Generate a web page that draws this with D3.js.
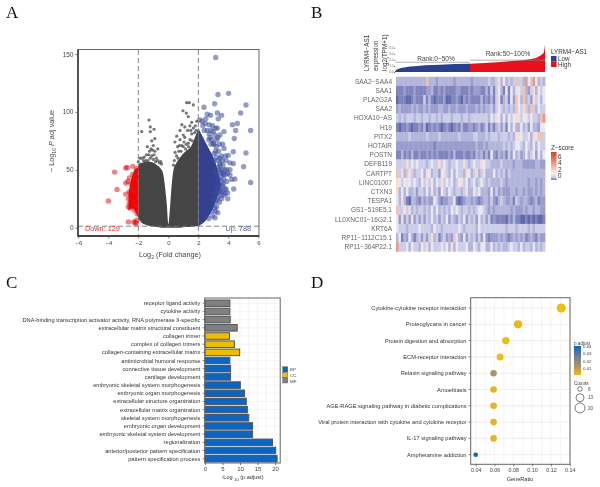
<!DOCTYPE html>
<html><head><meta charset="utf-8">
<script src="https://cdnjs.cloudflare.com/ajax/libs/d3/7.8.5/d3.min.js"></script>
<style>
html,body{margin:0;padding:0;background:#fff}
svg{display:block;filter:blur(0.45px)}
text{font-family:"Liberation Sans",Arial,sans-serif}
</style></head><body>
<svg id="c" width="600" height="487"></svg>
<script>
// ---------- Panel A data ----------
const grayX=[-2,-1.75,-1.5,-1.25,-1,-0.75,-0.5,-0.35,-0.2,-0.1,0,0.1,0.2,0.35,0.5,0.75,1,1.25,1.5,1.75,2];
const grayTop=[54,56,57,57,56,54,51,47,33,20,3,15,33,50,55,60,64,67,70,77,86];
const grayBottom=[8,4,2.5,1.5,1,.5,0,0,0,0,0,0,0,0,0,0,.3,.5,.8,1,1.5];
const grayPts=[[-1.29,93],[-1.77,83],[-.95,85],[-1.2,87],[-1.2,83],[-.9,77],[-1.1,75],[-1.4,70],[-1,71],[-.7,68],[-1.25,66],[-.95,63],[-1.75,60],[-2,57],[-.5,57],[-1.5,58],[-1.2,60],[-1.3,63],[-.8,60],[-1.85,55],[-.45,55],[-1.05,67],[-1.6,61],[-1.1,62],[-1.45,63],[-.7,58],[-.6,56],[-1.9,60],[-1.65,58],[-1.15,68],[-.9,66],[-1.35,58],[-.85,57],[-1,59],
[1.22,108],[1.4,108],[1.67,106],[.98,101],[1.2,99],[1.33,96],[1.56,91],[1.1,87],[.9,89],[1.44,88],[.78,84],[1.29,84],[1.67,86],[.56,79],[1,80],[1.56,81],[.44,74],[.78,76],[1.1,78],[.62,70],[.9,71],[1.33,73],[.45,65],[.7,66],[1.2,72],[1.8,88],[1.9,92],[.4,58],[.55,62],[.85,66],[1,70],[1.15,68],[1.45,76],[1.6,75],[1.75,82],[.65,60],[.35,54],[1.35,70],[1.05,74],[.75,71],[1.5,84],[1.85,84]];
const redX=[-2.65,-2.4,-2.2,-2];
const redTop=[30,45,50,52];
const redBottom=[15,17,14,8];
const redPts=[[-3.58,48],[-3.42,33],[-4,23],[-2.84,51.5],[-2.73,52],[-2.37,53],[-2.1,51],[-2.84,38.5],[-2.84,29],[-2.66,5],[-2.2,4.5],[-2.1,6.5],[-2.6,43],[-2.38,46],[-2.15,49],[-2.5,38],[-2.33,40],[-2.07,43],[-2.6,31],[-2.66,25],[-2.6,21],[-2.38,18],[-2.66,18],[-2.15,28],[-2.15,34],[-2.25,37],[-2.07,21],[-2.33,26],[-2.5,28],[-2.55,17],[-2.25,15],[-2.07,12],[-2.45,23],[-2.7,40],[-2.3,5],[-2.15,3.5]];
const blueX=[2,2.2,2.4,2.6,2.8,3,3.2,3.4,3.5];
const blueTop=[86,81,76,71,66,61,54,44,38];
const blueBottom=[1,3,5,8,12,17,24,32,36];
const bluePts=[[3.16,147],[3.31,115],[4.02,116],[3.09,107],[5.18,106],[2.38,104],[3.27,99],[4.82,99],[2.6,98],[3.55,97],[2.82,97],[3.33,94],[2.11,93],[4.27,89],[4.6,90],[2.73,89],[2.47,90],[3.27,86],[4.49,84],[5.49,84],[3.71,83],[3,83],[2.73,81],[3.44,80],[2.78,78],[4.4,77],[3.22,76],[3.62,72],[3,73],[3.71,68.5],[4.33,65.6],[5.18,64.5],[3.82,62],[4,62.5],[3.22,61],[3.44,55.5],[4.11,56],[4.33,55.5],[5.02,52.7],[3.55,50],[3.89,50],[4.11,50],[3.11,48],[3.67,46],[4.11,45.5],[4.22,41.7],[4.44,42],[5.49,39],[3.67,38],[4.36,33.4],[3.78,34],[3.44,32.5],[3.78,29.6],[3.96,25],[3.55,25],[3.22,18],[3.11,8.6],[3,24],[2.25,92],[2.5,94],[2.95,88],[3.1,80],[2.9,76],[3.2,70],[3.35,66],[3.05,64],[3.45,60],[3.6,58],[3.3,52],[3.5,44],[3.8,46],[3.9,40],[3.6,36],[3.95,30],[3.7,28],[3.5,28],[3.4,22],[3.3,13],[3.85,58],[2.3,88],[2.6,84],[2.85,84],[2.4,84],[3.15,86],[3.3,78],[3.05,72],[3.4,72],[3.55,62],[3.3,58],[3.65,54],[3.75,50],[3.95,47],[3.55,40],[3.7,42],[3.45,36],[3.85,33],[3.6,31],[3.3,26],[2.9,14],[3.15,22],[2.7,8],[3.25,46],[3.35,42],[3.25,38],[3.4,50],[3.3,34],[3.35,30],[3.2,30],[3.25,24],[3.1,17],[2.95,10],[3.05,58],[3.15,66],[2.85,72],[2.7,76],[3.5,48],[3.45,54],[3.15,14],[3.05,30],[3.6,47],[3.5,32]];
const volXTicks=[-6,-4,-2,0,2,4,6];
const volYTicks=[0,50,100,150];
// ---------- Panel B data ----------
const rankBlueX=[0,1,2,4,7,10,15,20,30,40,50];
const rankBlueY=[.1,.35,.5,.65,.8,.9,1,1.1,1.2,1.3,1.35];
const rankRedX=[50,60,70,80,85,90,94,97,99,99.5,100];
const rankRedY=[1.35,1.5,1.65,1.85,1.95,2.1,2.3,2.7,3.1,3.6,4.5];
const rankTicks=[0,1,2,3,4];
const genes=["SAA2\u2212SAA4","SAA1","PLA2G2A","SAA2","HOXA10\u2212AS","H19","PITX2","HOTAIR","POSTN","DEFB119","CARTPT","LINC01007","CTXN3","TESPA1","GS1\u2212519E5.1","LL0XNC01\u221216G2.1","KRT6A","RP11\u22121112C15.1","RP11\u2212364P22.1"];
const heatRows=[
"3333333333 3373332333 3332333333 2333333433 4635343474 4385485343",
"1112111211 1122311212 1111221112 1222113141 4531515365 4732463545",
"0111001211 1413101112 0011210212 1111312131 4613415275 3734264535",
"2322223232 2323222332 2322322232 2232323342 4543434375 4643743544",
"4343444344 3443443434 4434443443 4444444354 6535354566 4554544378",
"1011210112 1301212101 2101213112 2123124131 3424153533 5342533255",
"3333343333 3343333433 3333343333 3443334344 4344434366 5445366474",
"2222222222 2222212222 2222222222 2232232333 3334343455 4354353544",
"1131213112 1121212111 1213111211 2132313152 1323142534 2353452535",
"4444645454 4434544645 4344544643 4544654433 3343333233 3222223322",
"7463464344 5365344256 4353544365 3463463335 3434243333 3333333333",
"6545654543 5464535464 5453456453 4534543433 3343233333 3332332323",
"6353533424 4353634254 3543443463 3545333252 4232223323 3232232323",
"5363103321 3232254212 2335101233 2321233242 1343223143 2332123122",
"7445463434 4343535343 4354543443 4345543232 3333332322 2323323322",
"5262426242 4243534243 5243243524 3425342412 1111021311 0010101001",
"5444344445 4444354434 4444454344 4435444444 4444344434 4443434444",
"3513253134 2424634134 2324632524 3424262122 2323212323 2312321322",
"8444535443 5463544454 5363544453 3543553353 4343345443 5344353434"];
const heatLevels=[0,1,2,3,4,5,6,7,8,9];
const heatColors=["#6367ad","#8084bd","#9a9dcd","#b3b5db","#cccde8","#e8e7f2","#f6dcd4","#f4c0ae","#f0967e","#e9603f"];
const zTicks=[6,4,2,0];
// ---------- Panel C data ----------
const goTerms=["receptor ligand activity","cytokine activity","DNA-binding transcription activator activity, RNA polymerase II-specific","extracellular matrix structural constituent","collagen trimer","complex of collagen trimers","collagen-containing extracellular matrix","antimicrobial humoral response","connective tissue development","cartilage development","embryonic skeletal system morphogenesis","embryonic organ morphogenesis","extracellular structure organization","extracellular matrix organization","skeletal system morphogenesis","embryonic organ development","embryonic skeletal system development","regionalization","anterior/posterior pattern specification","pattern specification process"];
const goValues=[7.1,7.1,7.2,9.2,7,8.4,9.9,7.1,7.3,7.3,10.1,11.3,11.8,12.1,12.5,13.6,13.6,19.3,20.2,20.6];
const goClass=["MF","MF","MF","MF","CC","CC","CC","BP","BP","BP","BP","BP","BP","BP","BP","BP","BP","BP","BP","BP"];
const goLegend=["BP","CC","MF"];
const goColors=["#0a66c2","#f0bc00","#808080"];
const goTicks=[0,5,10,15,20];
// ---------- Panel D data ----------
const pathways=["Cytokine-cytokine receptor interaction","Proteoglycans in cancer","Protein digestion and absorption","ECM-receptor interaction","Relaxin signaling pathway","Amoebiasis","AGE-RAGE signaling pathway in diabetic complications","Viral protein interaction with cytokine and cytokine receptor","IL-17 signaling pathway","Amphetamine addiction"];
const geneRatio=[.131,.085,.072,.066,.059,.059,.059,.059,.059,.04];
const counts=[20,13,11,10,9,9,9,9,9,6];
const padj=[.004,.005,.004,.004,.015,.006,.006,.006,.006,.04];
const ratioTicks=[.04,.06,.08,.10,.12,.14];
const padjTicks=[.04,.03,.02,.01];
const countTicks=[6,13,20];

const svg=d3.select("#c");
const txt=(x,y,s,o={})=>{const t=svg.append("text").attr("x",x).attr("y",y).attr("font-size",o.size||6).attr("fill",o.fill||"#444").attr("text-anchor",o.anchor||"start").text(s);
  if(o.family)t.style("font-family",o.family);
  if(o.rot!=null)t.attr("transform",`rotate(${o.rot} ${x} ${y})`);return t;};
const sub=(t,s,size)=>t.append("tspan").attr("font-size",size).attr("dy",1.5).text(s);
const styleAxis=(g,size,color)=>{g.selectAll("text").attr("font-size",size).attr("fill",color).style("font-family",'"Liberation Sans"');g.selectAll("line").attr("stroke","#444").attr("stroke-width",.7);g.select(".domain").remove();};
[["A",6,18],["B",311,18],["C",6,288],["D",311,288]].forEach(d=>txt(d[1],d[2],d[0],{size:17,fill:"#111",family:'"Liberation Serif"'}));
const defs=svg.append("defs");
defs.append("filter").attr("id","soft").attr("x","-2%").attr("y","-2%").attr("width","104%").attr("height","104%").append("feGaussianBlur").attr("stdDeviation","0.7 0.35");

// ---------- A ----------
{
const x=d3.scaleLinear().domain([-6,6]).range([78.3,258.3]);
const y=d3.scaleLinear().domain([0,150]).range([227.7,54]);
const area=(xs,t,b,col)=>svg.append("path").datum(xs.map((v,i)=>[v,t[i],b[i]])).attr("fill",col)
  .attr("d",d3.area().curve(d3.curveMonotoneX).x(d=>x(d[0])).y0(d=>y(d[2])).y1(d=>y(d[1])));
const dots=(p,r,col,o)=>svg.append("g").selectAll("circle").data(p).join("circle").attr("cx",d=>x(d[0])).attr("cy",d=>y(d[1])).attr("r",r).attr("fill",col).attr("opacity",o);
dots(grayPts,1.6,"#4a4a4a",.75);
area(grayX,grayTop,grayBottom,"#454545");
area(redX,redTop,redBottom,"#f40a0a");
dots(redPts,2.7,"#f00000",.5);
area(blueX,blueTop,blueBottom,"#33418f");
dots(bluePts,2.7,"#3a4a9c",.55);
svg.append("g").selectAll("line").data([-2,2]).join("line").attr("x1",d=>x(d)).attr("x2",d=>x(d)).attr("y1",50).attr("y2",236).attr("stroke","#777").attr("stroke-width",.9).attr("stroke-dasharray","5 3");
svg.append("line").attr("x1",78).attr("x2",259).attr("y1",y(1.3)).attr("y2",y(1.3)).attr("stroke","#777").attr("stroke-width",.9).attr("stroke-dasharray","5 3");
svg.append("rect").attr("x",78).attr("y",49.5).attr("width",181).attr("height",186.5).attr("fill","none").attr("stroke","#444").attr("stroke-width",.8);
svg.append("path").attr("d","M78 49.5V236H259").attr("fill","none").attr("stroke","#222").attr("stroke-width",1.3);
styleAxis(svg.append("g").attr("transform","translate(0,236)").call(d3.axisBottom(x).tickValues(volXTicks).tickSize(2.5).tickPadding(2).tickFormat(d3.format("d"))),6,"#444");
styleAxis(svg.append("g").attr("transform","translate(78,0)").call(d3.axisLeft(y).tickValues(volYTicks).tickSize(2.5).tickPadding(2)),6.5,"#444");
txt(85,231,"Down: 129",{size:7.3,fill:"#f03030"});
txt(251,231,"Up: 788",{size:7.3,fill:"#5566aa",anchor:"end"});
const xl=txt(170,257,"Log",{size:7.3,anchor:"middle"});sub(xl,"2",5);xl.append("tspan").attr("dy",-1.5).text(" (Fold change)");
const yl=txt(54,141,"\u2212 Log",{size:7.3,anchor:"middle",rot:-90});sub(yl,"10",5);yl.append("tspan").attr("dy",-1.5).text(" ");yl.append("tspan").attr("font-style","italic").text("P");yl.append("tspan").text(" adj value");
}

// ---------- B ----------
{
const x=d3.scaleLinear().domain([0,100]).range([395,545]);
const y=d3.scaleLinear().domain([0,4]).range([72,47.7]);
const ar=d3.area().x(d=>x(d[0])).y0(72).y1(d=>y(d[1]));
svg.append("path").datum(rankBlueX.map((v,i)=>[v,rankBlueY[i]])).attr("fill","#27408f").attr("d",ar);
svg.append("path").datum(rankRedX.map((v,i)=>[v,rankRedY[i]])).attr("fill","#e8101a").attr("d",ar);
svg.append("line").attr("x1",x(0)).attr("x2",x(50)).attr("y1",y(1.6)).attr("y2",y(1.6)).attr("stroke","#aaa").attr("stroke-width",.9);
svg.append("line").attr("x1",x(50)).attr("x2",x(100)).attr("y1",y(1.95)).attr("y2",y(1.95)).attr("stroke","#888").attr("stroke-width",.7);
styleAxis(svg.append("g").attr("transform","translate(395.2,0)").call(d3.axisLeft(y).tickValues(rankTicks).tickSize(1.2).tickPadding(.6)),3,"#666");
txt(436,61,"Rank:0~50%",{size:6.5,anchor:"middle"});
txt(508,56,"Rank:50~100%",{size:6.5,anchor:"middle"});
["LYRM4\u2212AS1","expression","log2(TPM+1)"].forEach((s,i)=>txt(368.5+i*9.3,71,s,{size:6.3,rot:-90,fill:"#333"}));
const rows=heatRows.map(r=>r.replace(/ /g,"").split("").map(Number));
const bx=d3.scaleBand().domain(d3.range(rows[0].length)).range([396,545]);
const by=d3.scaleBand().domain(genes).range([76.8,251.5]);
const col=d3.scaleOrdinal(heatLevels,heatColors);
const g=svg.append("g").attr("filter","url(#soft)");
rows.forEach((r,i)=>g.append("g").selectAll("rect").data(r).join("rect").attr("x",(d,j)=>bx(j)).attr("y",by(genes[i])).attr("width",bx.bandwidth()+.4).attr("height",by.bandwidth()+.2).attr("fill",d=>col(d)));
genes.forEach(s=>txt(392,by(s)+by.bandwidth()/2+2.3,s,{size:6.5,anchor:"end",fill:"#666"}));
txt(551,54,"LYRM4\u2212AS1",{size:6.3,fill:"#333"});
svg.append("rect").attr("x",551).attr("y",56).attr("width",5.5).attr("height",5.5).attr("fill","#27408f");
svg.append("rect").attr("x",551).attr("y",61.5).attr("width",5.5).attr("height",5.5).attr("fill","#e8101a");
txt(558,60.5,"Low",{size:6.3,fill:"#333"});txt(558,66.5,"High",{size:6.3,fill:"#333"});
txt(551,150,"Z\u2212score",{size:6.3,fill:"#333"});
const lg=defs.append("linearGradient").attr("id","zg").attr("x1",0).attr("x2",0).attr("y1",0).attr("y2",1);
[["0%","#e53a1e"],["35%","#f08a70"],["75%","#fbeee8"],["90%","#cfd0e8"],["100%","#6a6fb5"]].forEach(d=>lg.append("stop").attr("offset",d[0]).attr("stop-color",d[1]));
svg.append("rect").attr("x",551).attr("y",152).attr("width",5.5).attr("height",28).attr("fill","url(#zg)");
const zy=d3.scaleLinear().domain([0,6]).range([176,156.5]);
zTicks.forEach(v=>txt(558,zy(v)+2.3,v,{size:6.3,fill:"#333"}));
}

// ---------- C ----------
{
const x=d3.scaleLinear().domain([0,20]).range([205,275]);
const y=d3.scaleBand().domain(goTerms).range([299.2,462.8]).paddingInner(.2).paddingOuter(.1);
const col=d3.scaleOrdinal(goLegend,goColors);
const grid=svg.append("g").attr("stroke","#ececec").attr("stroke-width",.6);
d3.range(0,22.5,2.5).forEach(v=>grid.append("line").attr("x1",x(v)).attr("x2",x(v)).attr("y1",298).attr("y2",463));
goTerms.forEach(t=>grid.append("line").attr("x1",205).attr("x2",280).attr("y1",y(t)+y.bandwidth()/2).attr("y2",y(t)+y.bandwidth()/2));
svg.append("g").selectAll("rect").data(goTerms).join("rect").attr("x",x(0)).attr("y",d=>y(d)).attr("width",(d,i)=>x(goValues[i])-x(0)).attr("height",y.bandwidth()).attr("fill",(d,i)=>col(goClass[i])).attr("stroke","#555").attr("stroke-width",1);
svg.append("rect").attr("x",204.7).attr("y",298).attr("width",75.5).attr("height",165).attr("fill","none").attr("stroke","#666").attr("stroke-width",1);
styleAxis(svg.append("g").attr("transform","translate(0,463)").call(d3.axisBottom(x).tickValues(goTicks).tickSize(2).tickPadding(1.5)),6,"#444");
goTerms.forEach(t=>{txt(200.3,y(t)+y.bandwidth()/2+2,t,{size:5.7,anchor:"end",fill:"#333"});
 svg.append("line").attr("x1",202.5).attr("x2",204.7).attr("y1",y(t)+y.bandwidth()/2).attr("y2",y(t)+y.bandwidth()/2).attr("stroke","#444").attr("stroke-width",.6);});
const l=txt(242.5,479,"-Log ",{size:5.6,anchor:"middle",fill:"#333"});sub(l,"10",4);l.append("tspan").attr("dy",-1.5).text(" (p.adjust)");
goLegend.forEach((c,i)=>{svg.append("rect").attr("x",282.8).attr("y",366.8+i*5.4).attr("width",5).attr("height",5.4).attr("fill",col(c)).attr("stroke","#555").attr("stroke-width",.4);
 txt(290,371.3+i*5.6,c,{size:4.4,fill:"#444"});});
}

// ---------- D ----------
{
const x=d3.scaleLinear().domain([.04,.14]).range([475.7,569.7]);
const y=d3.scalePoint().domain(pathways).range([308,454.7]);
const r=d3.scaleLinear().domain([6,9,13,20]).range([2.3,3.3,4.1,4.6]);
const pDom=[.004,.015,.027,.04], pCol=["#f0bc10","#ad9468","#6f7f99","#0a66c2"];
const col=d3.scaleLinear().domain(pDom).range(pCol);
const grid=svg.append("g").attr("stroke","#ececec").attr("stroke-width",.6);
d3.range(.04,.145,.01).forEach(v=>grid.append("line").attr("x1",x(v)).attr("x2",x(v)).attr("y1",298).attr("y2",464));
pathways.forEach(p=>grid.append("line").attr("x1",471).attr("x2",570).attr("y1",y(p)).attr("y2",y(p)).attr("stroke-width",.9));
svg.append("g").selectAll("circle").data(pathways).join("circle").attr("cx",(d,i)=>x(geneRatio[i])).attr("cy",d=>y(d)).attr("r",(d,i)=>r(counts[i])).attr("fill",(d,i)=>col(padj[i]));
svg.append("rect").attr("x",470.7).attr("y",297.7).attr("width",99.3).attr("height",166.6).attr("fill","none").attr("stroke","#666").attr("stroke-width",1);
styleAxis(svg.append("g").attr("transform","translate(0,464.3)").call(d3.axisBottom(x).tickValues(ratioTicks).tickSize(2).tickPadding(1.5).tickFormat(d3.format(".2f"))),5.4,"#444");
pathways.forEach(p=>{txt(466.5,y(p)+2,p,{size:5.7,anchor:"end",fill:"#333"});
 svg.append("line").attr("x1",468.5).attr("x2",470.7).attr("y1",y(p)).attr("y2",y(p)).attr("stroke","#444").attr("stroke-width",.6);});
txt(520,481,"GeneRatio",{size:5.6,anchor:"middle",fill:"#333"});
txt(574,344.5,"p.adjust",{size:4.6});
const lg=defs.append("linearGradient").attr("id","pg").attr("x1",0).attr("x2",0).attr("y1",1).attr("y2",0);
pDom.forEach((d,i)=>lg.append("stop").attr("offset",(d-.004)/.036).attr("stop-color",pCol[i]));
svg.append("rect").attr("x",574).attr("y",346).attr("width",7).attr("height",29).attr("fill","url(#pg)");
const py=d3.scaleLinear().domain([.01,.04]).range([368,346.7]);
padjTicks.forEach(v=>txt(583,py(v)+1.6,v.toFixed(2),{size:4.4}));
txt(574,385,"Counts",{size:4.6});
const cy=[389,397.7,408];
countTicks.forEach((c,i)=>{svg.append("circle").attr("cx",580).attr("cy",cy[i]).attr("r",[2.3,4,5][i]).attr("fill","#fff").attr("stroke","#444").attr("stroke-width",.7);
 txt(588,cy[i]+1.6,c,{size:4.6});});
}
</script>
</body></html>
